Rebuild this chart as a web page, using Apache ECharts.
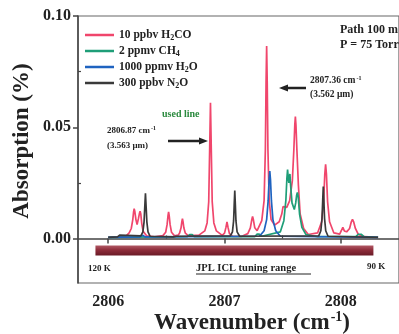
<!DOCTYPE html>
<html><head><meta charset="utf-8">
<script src="https://cdn.jsdelivr.net/npm/echarts@6/dist/echarts.min.js"></script>
<style>html,body{margin:0;padding:0;background:#fff}#c{width:399px;height:334px}</style>
</head><body><div id="c"></div>
<script>
// ---- data (wavenumber cm^-1, absorption %) ----
const seriesNames = ['10 ppbv H2CO', '2 ppmv CH4', '1000 ppmv H2O', '300 ppbv N2O'];
const h2co = [
[2806.00,0.0005],[2806.15,0.0010],[2806.18,0.0025],[2806.198,0.0045],[2806.211,0.0085],[2806.218,0.0120],[2806.223,0.0134],[2806.229,0.0120],[2806.238,0.0085],[2806.248,0.0063],[2806.259,0.0088],[2806.268,0.0112],[2806.274,0.0123],[2806.280,0.0110],[2806.288,0.0068],[2806.300,0.0032],[2806.330,0.0012],[2806.400,0.0007],
[2806.470,0.0013],[2806.494,0.0028],[2806.506,0.0062],[2806.514,0.0103],[2806.519,0.0120],[2806.524,0.0103],[2806.532,0.0062],[2806.544,0.0028],[2806.570,0.0012],[2806.600,0.0015],[2806.613,0.0024],[2806.626,0.0048],[2806.633,0.0076],[2806.638,0.0089],[2806.643,0.0076],[2806.650,0.0048],[2806.663,0.0024],[2806.690,0.0012],
[2806.780,0.0015],[2806.830,0.0034],[2806.850,0.0070],[2806.864,0.0165],[2806.872,0.0400],[2806.879,0.0610],[2806.886,0.0400],[2806.894,0.0165],[2806.908,0.0070],[2806.930,0.0034],[2806.980,0.0014],[2807.000,0.0024],[2807.012,0.0050],[2807.021,0.0074],[2807.030,0.0050],[2807.042,0.0022],[2807.070,0.0010],
[2807.150,0.0010],[2807.200,0.0022],[2807.222,0.0048],[2807.234,0.0084],[2807.241,0.0099],[2807.248,0.0084],[2807.260,0.0048],[2807.280,0.0035],[2807.320,0.0080],[2807.340,0.0170],[2807.351,0.0400],[2807.357,0.0700],[2807.362,0.0865],[2807.367,0.0700],[2807.373,0.0400],[2807.384,0.0170],[2807.400,0.0085],[2807.430,0.0060],
[2807.470,0.0075],[2807.492,0.0110],[2807.503,0.0143],[2807.509,0.0149],[2807.516,0.0138],[2807.535,0.0140],[2807.560,0.0170],[2807.583,0.0260],[2807.596,0.0400],[2807.604,0.0510],[2807.609,0.0548],[2807.614,0.0510],[2807.622,0.0400],[2807.635,0.0240],[2807.650,0.0110],[2807.680,0.0045],[2807.720,0.0018],
[2807.800,0.0025],[2807.835,0.0075],[2807.852,0.0165],[2807.862,0.0290],[2807.869,0.0333],[2807.876,0.0290],[2807.886,0.0165],[2807.903,0.0075],[2807.940,0.0025],[2807.990,0.0020],[2808.005,0.0036],[2808.017,0.0050],[2808.030,0.0034],[2808.050,0.0030],[2808.075,0.0045],[2808.090,0.0075],[2808.100,0.0086],[2808.110,0.0075],[2808.125,0.0045],[2808.150,0.0018],[2808.200,0.0008],[2808.320,0.0005]
];
const ch4 = [
[2806.00,0.0005],[2806.680,0.0008],[2806.700,0.0018],[2806.711,0.0026],[2806.722,0.0018],[2806.740,0.0008],[2807.260,0.0008],[2807.280,0.0020],[2807.289,0.0028],[2807.298,0.0020],[2807.320,0.0010],
[2807.480,0.0030],[2807.510,0.0080],[2807.527,0.0170],[2807.536,0.0270],[2807.542,0.0310],[2807.548,0.0270],[2807.553,0.0250],[2807.558,0.0280],[2807.562,0.0290],[2807.568,0.0240],[2807.580,0.0160],[2807.600,0.0130],[2807.612,0.0160],[2807.620,0.0195],[2807.626,0.0207],[2807.633,0.0190],[2807.645,0.0110],[2807.665,0.0050],[2807.700,0.0018],[2807.800,0.0008],
[2808.130,0.0010],[2808.150,0.0019],[2808.162,0.0027],[2808.174,0.0019],[2808.200,0.0008],[2808.320,0.0005]
];
const h2o = [
[2806.00,0.0005],[2806.270,0.0007],[2806.287,0.0011],[2806.295,0.0015],[2806.303,0.0011],[2806.320,0.0007],[2807.300,0.0010],[2807.340,0.0035],[2807.362,0.0085],[2807.375,0.0170],[2807.383,0.0265],[2807.389,0.0303],[2807.395,0.0265],[2807.403,0.0170],[2807.416,0.0085],[2807.440,0.0035],[2807.480,0.0010],[2808.320,0.0005]
];
const n2o = [
[2806.00,0.0005],[2806.080,0.0007],[2806.092,0.0011],[2806.098,0.0015],[2806.104,0.0011],[2806.115,0.0007],[2806.280,0.0012],[2806.298,0.0030],[2806.308,0.0075],[2806.314,0.0140],[2806.320,0.0203],[2806.326,0.0140],[2806.332,0.0075],[2806.342,0.0030],[2806.360,0.0010],
[2806.560,0.0007],[2806.570,0.0010],[2806.577,0.0013],[2806.584,0.0010],[2806.600,0.0007],[2807.050,0.0012],[2807.068,0.0030],[2807.078,0.0080],[2807.083,0.0150],[2807.088,0.0216],[2807.093,0.0150],[2807.098,0.0080],[2807.108,0.0030],[2807.130,0.0010],
[2807.810,0.0012],[2807.828,0.0035],[2807.838,0.0090],[2807.844,0.0170],[2807.849,0.0233],[2807.854,0.0170],[2807.860,0.0090],[2807.870,0.0035],[2807.890,0.0010],[2808.320,0.0005]
];
const tuningRange = [2805.89, 2808.28];
const xTickValues = [2806, 2807, 2808];
const xMinorTicks = [2806.5, 2807.5];
const yTickValues = [0, 0.05, 0.10];
const yMinorTicks = [0.025, 0.075];
// ----------------------------------------------

const SERIF = '"Liberation Serif","Times New Roman",serif';
const colors = ['#f0466c', '#1f9e78', '#1f63c0', '#3a3a3a'];
const richSub = {
  n: {fontFamily: SERIF, fontWeight: 'bold', fontSize: 11.5, color: '#222'},
  s: {fontFamily: SERIF, fontWeight: 'bold', fontSize: 8, color: '#222', padding: [5, 0, 0, 0]}
};
function subFmt(name) {
  return name.replace(/([A-Z])(\d)/g, '$1}{s|$2}{n|').replace(/^/, '{n|') + '}';
}
const chart = echarts.init(document.getElementById('c'), null, {renderer: 'canvas'});
const data = [h2co, ch4, h2o, n2o];
const series = data.map((d, i) => ({
  name: seriesNames[i], type: 'line', data: d, showSymbol: false, symbol: 'none',
  lineStyle: {width: 1.7, color: colors[i]}, itemStyle: {color: colors[i]}, z: 3 + i,
  animation: false
}));
series[3].markArea = {
  silent: true,
  itemStyle: {color: {type: 'linear', x: 0, y: 0, x2: 0, y2: 1, colorStops: [
    {offset: 0, color: '#b25a66'}, {offset: 0.45, color: '#8f2d3b'}, {offset: 1, color: '#6a1a26'}]}},
  data: [[{xAxis: tuningRange[0], yAxis: -0.0031}, {xAxis: tuningRange[1], yAxis: -0.0076}]]
};

const lbl = (t, x, y, size, extra) => Object.assign({type: 'text', x, y, silent: true,
  style: Object.assign({text: t, font: 'bold ' + size + 'px ' + SERIF, fill: '#222'}, extra || {})});

chart.setOption({
  animation: false,
  grid: {left: 78, top: 16, right: -9, bottom: 51, show: true, borderColor: '#666', borderWidth: 1.2},
  xAxis: [{
    type: 'value', min: 2805.74, max: 2808.5,
    axisLine: {show: true, lineStyle: {color: '#444', width: 1.5}},
    axisTick: {show: true, length: 5, lineStyle: {color: '#444', width: 1.5}, customValues: xTickValues},
    axisLabel: {customValues: xTickValues, formatter: v => String(v), fontFamily: SERIF, fontWeight: 'bold', fontSize: 16, color: '#222', margin: 11},
    splitLine: {show: false}
  }, {
    type: 'value', min: 2805.74, max: 2808.5, position: 'bottom',
    axisLine: {show: false}, axisLabel: {show: false}, splitLine: {show: false},
    axisTick: {show: true, inside: true, length: 3, lineStyle: {color: '#444', width: 1.2}, customValues: xMinorTicks}
  }],
  yAxis: [{
    type: 'value', min: -0.02, max: 0.10,
    axisLine: {show: true, lineStyle: {color: '#444', width: 1.5}},
    axisTick: {show: true, length: 5, lineStyle: {color: '#444', width: 1.5}, customValues: yTickValues},
    axisLabel: {customValues: yTickValues, formatter: v => v.toFixed(2), fontFamily: SERIF, fontWeight: 'bold', fontSize: 16, color: '#222', margin: 7},
    splitLine: {show: false}
  }, {
    type: 'value', min: -0.02, max: 0.10, position: 'left',
    axisLine: {show: false}, axisLabel: {show: false}, splitLine: {show: false},
    axisTick: {show: true, inside: true, length: 3, lineStyle: {color: '#444', width: 1.2}, customValues: yMinorTicks}
  }],
  legend: {
    orient: 'vertical', left: 80, top: 24, itemWidth: 29, itemHeight: 2.5, itemGap: 3.5, icon: 'rect',
    data: seriesNames, formatter: subFmt, textStyle: {rich: richSub, lineHeight: 12}
  },
  series: series,
  graphic: [
    Object.assign(lbl('Absorption (%)', 22, 141, 23, {align: 'center', verticalAlign: 'middle'}), {rotation: Math.PI / 2}),
    {type: 'text', x: 252, y: 323, silent: true, style: {
      text: '{a|Wavenumber (cm}{b|-1}{a|)}', align: 'center', verticalAlign: 'middle',
      rich: {a: {font: 'bold 23px ' + SERIF, fill: '#222'}, b: {font: 'bold 14px ' + SERIF, fill: '#222', padding: [0, 0, 12, 1]}}}},
    lbl('Path 100 m', 340, 30, 12, {verticalAlign: 'middle'}),
    lbl('P = 75 Torr', 340, 45, 12, {verticalAlign: 'middle'}),
    {type: 'text', x: 310, y: 81, silent: true, style: {text: '{a|2807.36 cm}{b|-1}', verticalAlign: 'middle',
      rich: {a: {font: 'bold 9.5px ' + SERIF, fill: '#222'}, b: {font: 'bold 6px ' + SERIF, fill: '#222', padding: [0, 0, 6, 1]}}}},
    lbl('(3.562 \u03bcm)', 310, 95, 9.5, {verticalAlign: 'middle'}),
    {type: 'line', silent: true, shape: {x1: 286, y1: 88, x2: 306, y2: 88}, style: {stroke: '#222', lineWidth: 2.5}},
    {type: 'polygon', silent: true, shape: {points: [[279, 88], [288, 84.5], [288, 91.5]]}, style: {fill: '#222'}},
    lbl('used line', 162, 114, 10, {verticalAlign: 'middle', fill: '#2a8a3e'}),
    {type: 'text', x: 107, y: 131, silent: true, style: {text: '{a|2806.87 cm}{b|-1}', verticalAlign: 'middle',
      rich: {a: {font: 'bold 9px ' + SERIF, fill: '#222'}, b: {font: 'bold 6px ' + SERIF, fill: '#222', padding: [0, 0, 6, 1]}}}},
    lbl('(3.563 \u03bcm)', 107, 146, 9, {verticalAlign: 'middle'}),
    {type: 'line', silent: true, shape: {x1: 168, y1: 141, x2: 200, y2: 141}, style: {stroke: '#222', lineWidth: 2.5}},
    {type: 'polygon', silent: true, shape: {points: [[208, 141], [199, 137.5], [199, 144.5]]}, style: {fill: '#222'}},
    lbl('120 K', 88, 269, 9, {verticalAlign: 'middle'}),
    lbl('JPL ICL tuning range', 196, 268, 10.5, {verticalAlign: 'middle'}),
    {type: 'line', silent: true, shape: {x1: 196, y1: 274, x2: 311, y2: 274}, style: {stroke: '#222', lineWidth: 1}},
    lbl('90 K', 367, 267, 9, {verticalAlign: 'middle'})
  ]
});
</script></body></html>
